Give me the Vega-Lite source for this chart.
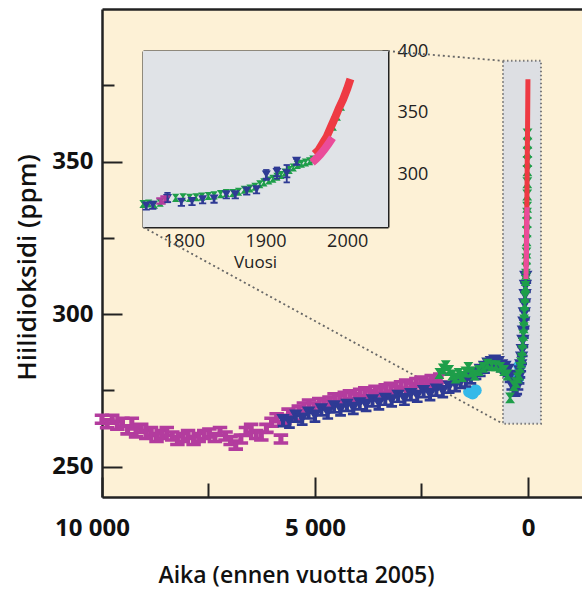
{
  "$schema": "https://vega.github.io/schema/vega-lite/v6.json",
  "width": 480,
  "height": 488,
  "autosize": {"type": "none"},
  "padding": {"left": 102, "top": 9, "right": 0, "bottom": 92},
  "background": "#ffffff",
  "config": {
    "font": "Open Sans",
    "view": {"stroke": null, "fill": "#FDF1D6"},
    "axis": {"grid": false, "zindex": 1, "domainColor": "#222222", "tickColor": "#222222", "labelColor": "#111111", "titleColor": "#111111", "labelFont": "Open Sans", "titleFont": "Open Sans", "labelOverlap": false, "labelFlush": false, "labelBound": false}
  },
  "datasets": {
    "zoombox": [{"age": 587, "age2": -305, "co2": 264, "co22": 383}],
    "connectors": [
      {"age": 3286, "co2": 386.2, "age2": 587, "co22": 383},
      {"age": 9038, "co2": 328.5, "age2": 587, "co22": 264}
    ],
    "insetBox": [{"year": 1750, "year2": 2050, "co2": 258, "co22": 400}],
    "main": [
      {"age": 10000, "co2": 265.5, "s": "EPICA"}, {"age": 9880, "co2": 264, "s": "EPICA"}, {"age": 9760, "co2": 265.5, "s": "EPICA"}, {"age": 9640, "co2": 263.5, "s": "EPICA"}, {"age": 9520, "co2": 264.5, "s": "EPICA"}, {"age": 9400, "co2": 262, "s": "EPICA"}, {"age": 9300, "co2": 264.5, "s": "EPICA"}, {"age": 9200, "co2": 261, "s": "EPICA"}, {"age": 9080, "co2": 262.5, "s": "EPICA"}, {"age": 8960, "co2": 260.5, "s": "EPICA"}, {"age": 8850, "co2": 261.5, "s": "EPICA"}, {"age": 8720, "co2": 259.5, "s": "EPICA"}, {"age": 8600, "co2": 260.5, "s": "EPICA"}, {"age": 8480, "co2": 261.5, "s": "EPICA"}, {"age": 8350, "co2": 260, "s": "EPICA"}, {"age": 8230, "co2": 258.5, "s": "EPICA"}, {"age": 8100, "co2": 259.5, "s": "EPICA"}, {"age": 7980, "co2": 260.5, "s": "EPICA"}, {"age": 7850, "co2": 258.5, "s": "EPICA"}, {"age": 7730, "co2": 259.5, "s": "EPICA"}, {"age": 7600, "co2": 260.5, "s": "EPICA"}, {"age": 7480, "co2": 261, "s": "EPICA"}, {"age": 7350, "co2": 259.5, "s": "EPICA"}, {"age": 7230, "co2": 261.5, "s": "EPICA"}, {"age": 7100, "co2": 260, "s": "EPICA"}, {"age": 6980, "co2": 258.5, "s": "EPICA"}, {"age": 6860, "co2": 257, "s": "EPICA"}, {"age": 6740, "co2": 259, "s": "EPICA"}, {"age": 6620, "co2": 261.5, "s": "EPICA"}, {"age": 6500, "co2": 262.5, "s": "EPICA"}, {"age": 6380, "co2": 260.5, "s": "EPICA"}, {"age": 6260, "co2": 260, "s": "EPICA"}, {"age": 6140, "co2": 262.5, "s": "EPICA"}, {"age": 6020, "co2": 264.5, "s": "EPICA"}, {"age": 5900, "co2": 266, "s": "EPICA"}, {"age": 5800, "co2": 259, "s": "EPICA"}, {"age": 5720, "co2": 265.5, "s": "EPICA"}, {"age": 5620, "co2": 267.5, "s": "EPICA"}, {"age": 5500, "co2": 266.5, "s": "EPICA"}, {"age": 5380, "co2": 268.5, "s": "EPICA"}, {"age": 5260, "co2": 269.5, "s": "EPICA"}, {"age": 5140, "co2": 270.5, "s": "EPICA"}, {"age": 5020, "co2": 269.5, "s": "EPICA"}, {"age": 4900, "co2": 271, "s": "EPICA"}, {"age": 4780, "co2": 270.5, "s": "EPICA"}, {"age": 4660, "co2": 271.5, "s": "EPICA"}, {"age": 4540, "co2": 272.5, "s": "EPICA"}, {"age": 4420, "co2": 272, "s": "EPICA"}, {"age": 4300, "co2": 273, "s": "EPICA"}, {"age": 4180, "co2": 273.5, "s": "EPICA"}, {"age": 4060, "co2": 272.5, "s": "EPICA"}, {"age": 3940, "co2": 274, "s": "EPICA"}, {"age": 3820, "co2": 274.5, "s": "EPICA"}, {"age": 3700, "co2": 273.5, "s": "EPICA"}, {"age": 3580, "co2": 275, "s": "EPICA"}, {"age": 3460, "co2": 274.5, "s": "EPICA"}, {"age": 3340, "co2": 275.5, "s": "EPICA"}, {"age": 3220, "co2": 276, "s": "EPICA"}, {"age": 3100, "co2": 275, "s": "EPICA"}, {"age": 2980, "co2": 276.5, "s": "EPICA"}, {"age": 2860, "co2": 277, "s": "EPICA"}, {"age": 2740, "co2": 276, "s": "EPICA"}, {"age": 2620, "co2": 277.5, "s": "EPICA"}, {"age": 2500, "co2": 278, "s": "EPICA"}, {"age": 2380, "co2": 277, "s": "EPICA"}, {"age": 2260, "co2": 278.5, "s": "EPICA"}, {"age": 2150, "co2": 278, "s": "EPICA"}, {"age": 2060, "co2": 279, "s": "EPICA"},
      {"age": 1380, "co2": 274.5, "s": "Cyan"}, {"age": 1300, "co2": 274, "s": "Cyan"}, {"age": 1230, "co2": 275, "s": "Cyan"}, {"age": 230, "co2": 279, "s": "Cyan"}, {"age": 200, "co2": 283, "s": "Cyan"},
      {"age": 5750, "co2": 265, "s": "Taylor"}, {"age": 5600, "co2": 264.5, "s": "Taylor"}, {"age": 5450, "co2": 266.5, "s": "Taylor"}, {"age": 5300, "co2": 265.5, "s": "Taylor"}, {"age": 5150, "co2": 267.5, "s": "Taylor"}, {"age": 5000, "co2": 266.5, "s": "Taylor"}, {"age": 4850, "co2": 268.5, "s": "Taylor"}, {"age": 4700, "co2": 267.5, "s": "Taylor"}, {"age": 4550, "co2": 269.5, "s": "Taylor"}, {"age": 4400, "co2": 268.5, "s": "Taylor"}, {"age": 4250, "co2": 270, "s": "Taylor"}, {"age": 4100, "co2": 269, "s": "Taylor"}, {"age": 3950, "co2": 270.5, "s": "Taylor"}, {"age": 3800, "co2": 270, "s": "Taylor"}, {"age": 3650, "co2": 271.5, "s": "Taylor"}, {"age": 3500, "co2": 270.5, "s": "Taylor"}, {"age": 3350, "co2": 272, "s": "Taylor"}, {"age": 3200, "co2": 271.5, "s": "Taylor"}, {"age": 3050, "co2": 273, "s": "Taylor"}, {"age": 2900, "co2": 272, "s": "Taylor"}, {"age": 2750, "co2": 273.5, "s": "Taylor"}, {"age": 2600, "co2": 273, "s": "Taylor"}, {"age": 2450, "co2": 274.5, "s": "Taylor"}, {"age": 2300, "co2": 273.5, "s": "Taylor"}, {"age": 2150, "co2": 275, "s": "Taylor"}, {"age": 2000, "co2": 274.5, "s": "Taylor"}, {"age": 1850, "co2": 276, "s": "Taylor"}, {"age": 1700, "co2": 276.5, "s": "Taylor"}, {"age": 1580, "co2": 277.5, "s": "Taylor"}, {"age": 1460, "co2": 278, "s": "Taylor"}, {"age": 1340, "co2": 279, "s": "Taylor"}, {"age": 1220, "co2": 280.5, "s": "Taylor"}, {"age": 1120, "co2": 281.5, "s": "Taylor"}, {"age": 1020, "co2": 282.5, "s": "Taylor"}, {"age": 940, "co2": 283.5, "s": "Taylor"}, {"age": 860, "co2": 284, "s": "Taylor"}, {"age": 780, "co2": 284.5, "s": "Taylor"}, {"age": 700, "co2": 284, "s": "Taylor"}, {"age": 620, "co2": 283, "s": "Taylor"}, {"age": 540, "co2": 282.5, "s": "Taylor"}, {"age": 470, "co2": 281.5, "s": "Taylor"}, {"age": 420, "co2": 279.5, "s": "Taylor"}, {"age": 380, "co2": 277, "s": "Taylor"}, {"age": 340, "co2": 275.5, "s": "Taylor"}, {"age": 300, "co2": 275, "s": "Taylor"}, {"age": 265, "co2": 275.5, "s": "Taylor"}, {"age": 235, "co2": 277, "s": "Taylor"}, {"age": 210, "co2": 279, "s": "Taylor"}, {"age": 190, "co2": 281, "s": "Taylor"}, {"age": 170, "co2": 283, "s": "Taylor"}, {"age": 150, "co2": 285.5, "s": "Taylor"}, {"age": 135, "co2": 288, "s": "Taylor"}, {"age": 120, "co2": 291, "s": "Taylor"}, {"age": 108, "co2": 294, "s": "Taylor"}, {"age": 96, "co2": 297, "s": "Taylor"}, {"age": 86, "co2": 300, "s": "Taylor"}, {"age": 77, "co2": 303, "s": "Taylor"}, {"age": 68, "co2": 306, "s": "Taylor"}, {"age": 60, "co2": 309, "s": "Taylor"}, {"age": 52, "co2": 312, "s": "Taylor"},
      {"age": 2080, "co2": 280.5, "s": "LawDome"}, {"age": 2000, "co2": 282, "s": "LawDome"}, {"age": 1930, "co2": 283, "s": "LawDome"}, {"age": 1850, "co2": 281.5, "s": "LawDome"}, {"age": 1780, "co2": 280, "s": "LawDome"}, {"age": 1700, "co2": 279, "s": "LawDome"}, {"age": 1630, "co2": 280.5, "s": "LawDome"}, {"age": 1550, "co2": 279.5, "s": "LawDome"}, {"age": 1470, "co2": 281, "s": "LawDome"}, {"age": 1400, "co2": 282.5, "s": "LawDome"}, {"age": 1330, "co2": 281, "s": "LawDome"}, {"age": 1250, "co2": 280, "s": "LawDome"}, {"age": 1150, "co2": 281.5, "s": "LawDome"}, {"age": 1050, "co2": 282.5, "s": "LawDome"}, {"age": 950, "co2": 283.5, "s": "LawDome"}, {"age": 850, "co2": 283, "s": "LawDome"}, {"age": 750, "co2": 283, "s": "LawDome"}, {"age": 650, "co2": 282.5, "s": "LawDome"}, {"age": 560, "co2": 281.5, "s": "LawDome"}, {"age": 480, "co2": 280, "s": "LawDome"}, {"age": 420, "co2": 272.5, "s": "LawDome"}, {"age": 330, "co2": 276.5, "s": "LawDome"}, {"age": 280, "co2": 277.5, "s": "LawDome"}, {"age": 240, "co2": 279, "s": "LawDome"}, {"age": 205, "co2": 280, "s": "LawDome"}, {"age": 185, "co2": 282.5, "s": "LawDome"}, {"age": 165, "co2": 284, "s": "LawDome"}, {"age": 148, "co2": 285.5, "s": "LawDome"}, {"age": 135, "co2": 288, "s": "LawDome"}, {"age": 122, "co2": 290.5, "s": "LawDome"}, {"age": 110, "co2": 293, "s": "LawDome"}, {"age": 100, "co2": 295.5, "s": "LawDome"}, {"age": 92, "co2": 298, "s": "LawDome"}, {"age": 84, "co2": 300.5, "s": "LawDome"}, {"age": 76, "co2": 303, "s": "LawDome"}, {"age": 68, "co2": 305.5, "s": "LawDome"}, {"age": 60, "co2": 309, "s": "LawDome"}, {"age": 54, "co2": 311, "s": "LawDome"}, {"age": 48, "co2": 313, "s": "LawDome"}, {"age": 44, "co2": 315, "s": "LawDome"}, {"age": 40, "co2": 318, "s": "LawDome"}, {"age": 36, "co2": 320, "s": "LawDome"}, {"age": 32, "co2": 324, "s": "LawDome"}, {"age": 28, "co2": 327, "s": "LawDome"}, {"age": 25, "co2": 330, "s": "LawDome"}, {"age": 22, "co2": 333, "s": "LawDome"}, {"age": 20, "co2": 335, "s": "LawDome"}, {"age": 18, "co2": 339, "s": "LawDome"}, {"age": 16, "co2": 343, "s": "LawDome"}, {"age": 14, "co2": 347, "s": "LawDome"}, {"age": 13, "co2": 350, "s": "LawDome"}, {"age": 12, "co2": 353, "s": "LawDome"}, {"age": 11, "co2": 356, "s": "LawDome"}, {"age": 10, "co2": 359, "s": "LawDome"}
    ],
    "mainLines": [
      {"age": 47, "co2": 315.5, "s": "MaunaLoa"}, {"age": 40, "co2": 320, "s": "MaunaLoa"}, {"age": 35, "co2": 325.5, "s": "MaunaLoa"}, {"age": 30, "co2": 331, "s": "MaunaLoa"}, {"age": 25, "co2": 338.5, "s": "MaunaLoa"}, {"age": 20, "co2": 346, "s": "MaunaLoa"}, {"age": 15, "co2": 354, "s": "MaunaLoa"}, {"age": 10, "co2": 361, "s": "MaunaLoa"}, {"age": 5, "co2": 369.5, "s": "MaunaLoa"}, {"age": 1, "co2": 377, "s": "MaunaLoa"},
      {"age": 48, "co2": 311.5, "s": "SouthPole"}, {"age": 43, "co2": 315, "s": "SouthPole"}, {"age": 38, "co2": 318.5, "s": "SouthPole"}, {"age": 33, "co2": 322.5, "s": "SouthPole"}, {"age": 28, "co2": 327, "s": "SouthPole"}, {"age": 23, "co2": 333, "s": "SouthPole"}, {"age": 20, "co2": 335, "s": "SouthPole"}
    ],
    "inset": [
      {"year": 1750, "co2": 276.5, "s": "LawDome"}, {"year": 1757, "co2": 277, "s": "LawDome"}, {"year": 1764, "co2": 276, "s": "LawDome"}, {"year": 1771, "co2": 277.5, "s": "LawDome"}, {"year": 1790, "co2": 281.5, "s": "LawDome"}, {"year": 1799, "co2": 282, "s": "LawDome"}, {"year": 1807, "co2": 281.5, "s": "LawDome"}, {"year": 1815, "co2": 282, "s": "LawDome"}, {"year": 1822, "co2": 282.5, "s": "LawDome"}, {"year": 1830, "co2": 283, "s": "LawDome"}, {"year": 1837, "co2": 283.5, "s": "LawDome"}, {"year": 1845, "co2": 284.5, "s": "LawDome"}, {"year": 1852, "co2": 285.5, "s": "LawDome"}, {"year": 1860, "co2": 285.5, "s": "LawDome"}, {"year": 1867, "co2": 286.5, "s": "LawDome"}, {"year": 1874, "co2": 288, "s": "LawDome"}, {"year": 1881, "co2": 289, "s": "LawDome"}, {"year": 1887, "co2": 290.5, "s": "LawDome"}, {"year": 1893, "co2": 292.5, "s": "LawDome"}, {"year": 1898, "co2": 294, "s": "LawDome"}, {"year": 1904, "co2": 295.5, "s": "LawDome"}, {"year": 1909, "co2": 297, "s": "LawDome"}, {"year": 1914, "co2": 298.5, "s": "LawDome"}, {"year": 1919, "co2": 300, "s": "LawDome"}, {"year": 1924, "co2": 302, "s": "LawDome"}, {"year": 1929, "co2": 304, "s": "LawDome"}, {"year": 1934, "co2": 306, "s": "LawDome"}, {"year": 1939, "co2": 308, "s": "LawDome"}, {"year": 1944, "co2": 309, "s": "LawDome"}, {"year": 1949, "co2": 310, "s": "LawDome"}, {"year": 1954, "co2": 311, "s": "LawDome"}, {"year": 1958, "co2": 312.5, "s": "LawDome"}, {"year": 1963, "co2": 316, "s": "LawDome"}, {"year": 1968, "co2": 320, "s": "LawDome"}, {"year": 1973, "co2": 325.5, "s": "LawDome"}, {"year": 1978, "co2": 332, "s": "LawDome"}, {"year": 1983, "co2": 339, "s": "LawDome"}, {"year": 1988, "co2": 347, "s": "LawDome"}, {"year": 1993, "co2": 355, "s": "LawDome"},
      {"year": 1754, "co2": 275, "s": "Taylor"}, {"year": 1762, "co2": 275.5, "s": "Taylor"}, {"year": 1780, "co2": 281, "s": "Taylor"}, {"year": 1797, "co2": 278, "s": "Taylor"}, {"year": 1810, "co2": 278.5, "s": "Taylor"}, {"year": 1823, "co2": 280, "s": "Taylor"}, {"year": 1837, "co2": 280.5, "s": "Taylor"}, {"year": 1852, "co2": 284, "s": "Taylor"}, {"year": 1863, "co2": 284, "s": "Taylor"}, {"year": 1877, "co2": 287, "s": "Taylor"}, {"year": 1889, "co2": 288, "s": "Taylor"}, {"year": 1901, "co2": 300, "s": "Taylor"}, {"year": 1914, "co2": 302, "s": "Taylor"}, {"year": 1926, "co2": 301, "s": "Taylor"}, {"year": 1938, "co2": 311, "s": "Taylor"},
      {"year": 1772, "co2": 279, "s": "EPICA"}, {"year": 1777, "co2": 280.5, "s": "EPICA"}
    ],
    "insetBars": [
      {"year": 1780, "lo": 278, "hi": 285.5}, {"year": 1901, "lo": 296, "hi": 304}, {"year": 1914, "lo": 297, "hi": 306}, {"year": 1926, "lo": 294, "hi": 308}, {"year": 1938, "lo": 308.5, "hi": 313}
    ],
    "insetLines": [
      {"year": 1960, "co2": 317, "s": "MaunaLoa"}, {"year": 1965, "co2": 320, "s": "MaunaLoa"}, {"year": 1970, "co2": 325.5, "s": "MaunaLoa"}, {"year": 1975, "co2": 331, "s": "MaunaLoa"}, {"year": 1980, "co2": 338.5, "s": "MaunaLoa"}, {"year": 1985, "co2": 346, "s": "MaunaLoa"}, {"year": 1990, "co2": 354, "s": "MaunaLoa"}, {"year": 1995, "co2": 361, "s": "MaunaLoa"}, {"year": 2000, "co2": 369.5, "s": "MaunaLoa"}, {"year": 2004, "co2": 377.5, "s": "MaunaLoa"},
      {"year": 1957, "co2": 310, "s": "SouthPole"}, {"year": 1962, "co2": 313, "s": "SouthPole"}, {"year": 1967, "co2": 316.5, "s": "SouthPole"}, {"year": 1972, "co2": 320.5, "s": "SouthPole"}, {"year": 1977, "co2": 325, "s": "SouthPole"}, {"year": 1982, "co2": 330, "s": "SouthPole"}
    ]
  },
  "layer": [
    {
      "data": {"name": "zoombox"},
      "mark": {"type": "rect", "fill": "#DDDFE3", "stroke": "#7a7a7a", "strokeWidth": 2, "strokeDash": [1.5, 2.5]},
      "encoding": {
        "x": {"field": "age", "type": "quantitative", "scale": {"domain": [-1268, 10000], "reverse": true, "nice": false, "zero": false}, "axis": {"orient": "top", "ticks": false, "labels": false, "title": null, "domainWidth": 2.5}},
        "x2": {"field": "age2"},
        "y": {"field": "co2", "type": "quantitative", "scale": {"domain": [240, 400], "nice": false, "zero": false}, "axis": {"orient": "left", "values": [275, 325, 375], "tickSize": -12, "tickWidth": 2, "labels": false, "domain": false, "title": null}},
        "y2": {"field": "co22"}
      }
    },
    {
      "data": {"name": "connectors"},
      "mark": {"type": "rule", "stroke": "#666666", "strokeWidth": 1.8, "strokeDash": [2, 3]},
      "encoding": {
        "x": {"field": "age", "type": "quantitative", "scale": {"domain": [-1268, 10000], "reverse": true, "nice": false, "zero": false}, "axis": null},
        "x2": {"field": "age2"},
        "y": {"field": "co2", "type": "quantitative", "scale": {"domain": [240, 400], "nice": false, "zero": false}, "axis": null},
        "y2": {"field": "co22"}
      }
    },
    {
      "data": {"name": "main"},
      "mark": {"type": "point", "filled": true, "opacity": 1, "strokeWidth": 0},
      "encoding": {
        "x": {"field": "age", "type": "quantitative", "scale": {"domain": [-1268, 10000], "reverse": true, "nice": false, "zero": false},
          "axis": {"orient": "bottom", "values": [0, 5000, 10000], "tickSize": -20, "tickWidth": 2, "domainWidth": 2.5, "labelFontSize": 24, "labelFontWeight": "bold", "labelPadding": 39, "labelExpr": "datum.value == 10000 ? '10 000' : datum.value == 5000 ? '5 000' : '0'", "labelOffset": {"condition": {"test": "datum.value == 10000", "value": -10}, "value": 0}, "title": "Aika (ennen vuotta 2005)", "titleFontSize": 23, "titleFontWeight": 600, "titlePadding": 24, "titleX": 194, "titleAlign": "center", "titleAnchor": null}},
        "y": {"field": "co2", "type": "quantitative", "scale": {"domain": [240, 400], "nice": false, "zero": false},
          "axis": {"orient": "left", "values": [250, 300, 350], "tickSize": -20, "tickWidth": 2, "domainWidth": 2.5, "labelFontSize": 24, "labelFontWeight": "bold", "labelPadding": 29, "title": "Hiilidioksidi (ppm)", "titleFontSize": 26, "titleFontWeight": 600, "titlePadding": 11, "titleY": 258, "titleAlign": "center", "titleAnchor": null}},
        "color": {"field": "s", "type": "nominal", "legend": null, "scale": {"domain": ["EPICA", "Taylor", "Cyan", "LawDome", "MaunaLoa", "SouthPole"], "range": ["#B33C9E", "#2E3A94", "#35B9E9", "#1E9E4A", "#EE3A43", "#EA4C9A"]}},
        "shape": {"field": "s", "type": "nominal", "legend": null, "scale": {"domain": ["EPICA", "Taylor", "Cyan", "LawDome"], "range": ["M-1,-0.8H1V-0.3H0.35V0.3H1V0.8H-1V0.3H-0.35V-0.3H-1Z", "M-1,-1H1L0.3,0.2V0.6H0.8V1H-0.8V0.6H-0.3V0.2Z", "circle", "M-0.9,-1H0.9L0.2,0L0.9,1H-0.9L-0.2,0Z"]}},
        "size": {"field": "s", "type": "nominal", "legend": null, "scale": {"domain": ["EPICA", "Taylor", "Cyan", "LawDome"], "range": [210, 120, 60, 160]}}
      }
    },
    {
      "data": {"name": "mainLines"},
      "mark": {"type": "line", "strokeWidth": 5},
      "encoding": {
        "x": {"field": "age", "type": "quantitative", "scale": {"domain": [-1268, 10000], "reverse": true, "nice": false, "zero": false}, "axis": {"orient": "bottom", "values": [2500, 7500], "tickSize": -14, "tickWidth": 2, "labels": false, "domain": false, "title": null}},
        "y": {"field": "co2", "type": "quantitative", "scale": {"domain": [240, 400], "nice": false, "zero": false}, "axis": null},
        "color": {"field": "s", "type": "nominal", "legend": null, "scale": {"domain": ["EPICA", "Taylor", "Cyan", "LawDome", "MaunaLoa", "SouthPole"], "range": ["#B33C9E", "#2E3A94", "#35B9E9", "#1E9E4A", "#EE3A43", "#EA4C9A"]}}
      }
    },
    {
      "data": {"name": "insetBox"},
      "mark": {"type": "rect", "fill": "#E0E3E7"},
      "encoding": {
        "x": {"field": "year", "type": "quantitative", "scale": {"domain": [1750, 2050], "range": [41, 286], "nice": false, "zero": false},
          "axis": {"orient": "bottom", "offset": -270, "values": [1800, 1850, 1900, 1950, 2000], "format": "d", "tickSize": -10, "tickWidth": 2, "domainWidth": 2, "labelFontSize": 18, "labelPadding": 15, "labelColor": "#222222", "labelExpr": "datum.value % 100 == 0 ? datum.label : ''", "title": "Vuosi", "titleFontSize": 17, "titleFontWeight": "normal", "titleColor": "#222222", "titlePadding": 4, "titleX": 153, "titleAlign": "center", "titleAnchor": null}},
        "x2": {"field": "year2"},
        "y": {"field": "co2", "type": "quantitative", "scale": {"domain": [258, 400], "range": [218, 42], "nice": false, "zero": false},
          "axis": {"orient": "left", "offset": -41, "values": [275, 300, 325, 350, 375], "tickSize": -7, "tickWidth": 2, "domainWidth": 2, "labels": false, "title": null}},
        "y2": {"field": "co22"}
      }
    },
    {
      "data": {"name": "inset"},
      "mark": {"type": "point", "filled": true, "opacity": 1, "strokeWidth": 0},
      "encoding": {
        "x": {"field": "year", "type": "quantitative", "scale": {"domain": [1750, 2050], "range": [41, 286], "nice": false, "zero": false},
          "axis": {"orient": "top", "offset": -42, "values": [1800, 1850, 1900, 1950, 2000], "tickSize": -10, "tickWidth": 2, "domainWidth": 2, "labels": false, "title": null}},
        "y": {"field": "co2", "type": "quantitative", "scale": {"domain": [258, 400], "range": [218, 42], "nice": false, "zero": false},
          "axis": {"orient": "right", "offset": -194, "values": [275, 300, 325, 350, 375, 400], "tickSize": -6, "tickWidth": 2, "domainWidth": 2, "labelFontSize": 18, "labelPadding": 15, "labelColor": "#222222", "labelExpr": "datum.value % 50 == 0 ? datum.label : ''", "title": null}},
        "color": {"field": "s", "type": "nominal", "legend": null, "scale": {"domain": ["EPICA", "Taylor", "Cyan", "LawDome", "MaunaLoa", "SouthPole"], "range": ["#B33C9E", "#2E3A94", "#35B9E9", "#1E9E4A", "#EE3A43", "#EA4C9A"]}},
        "shape": {"field": "s", "type": "nominal", "legend": null, "scale": {"domain": ["EPICA", "Taylor", "Cyan", "LawDome"], "range": ["M-1,-0.8H1V-0.3H0.35V0.3H1V0.8H-1V0.3H-0.35V-0.3H-1Z", "M-1,-1H1L0.3,0.2V0.6H0.8V1H-0.8V0.6H-0.3V0.2Z", "circle", "M-0.9,-1H0.9L0.2,0L0.9,1H-0.9L-0.2,0Z"]}},
        "size": {"field": "s", "type": "nominal", "legend": null, "scale": {"domain": ["EPICA", "Taylor", "Cyan", "LawDome"], "range": [90, 65, 40, 120]}}
      }
    },
    {
      "data": {"name": "insetLines"},
      "mark": {"type": "line", "strokeWidth": 8},
      "encoding": {
        "x": {"field": "year", "type": "quantitative", "scale": {"domain": [1750, 2050], "range": [41, 286], "nice": false, "zero": false}, "axis": null},
        "y": {"field": "co2", "type": "quantitative", "scale": {"domain": [258, 400], "range": [218, 42], "nice": false, "zero": false}, "axis": null},
        "color": {"field": "s", "type": "nominal", "legend": null, "scale": {"domain": ["EPICA", "Taylor", "Cyan", "LawDome", "MaunaLoa", "SouthPole"], "range": ["#B33C9E", "#2E3A94", "#35B9E9", "#1E9E4A", "#EE3A43", "#EA4C9A"]}},
        "strokeWidth": {"field": "s", "type": "nominal", "legend": null, "scale": {"domain": ["MaunaLoa", "SouthPole"], "range": [8, 10]}}
      }
    },
    {
      "data": {"name": "insetBars"},
      "mark": {"type": "rule", "stroke": "#2E3A94", "strokeWidth": 1.8},
      "encoding": {
        "x": {"field": "year", "type": "quantitative", "scale": {"domain": [1750, 2050], "range": [41, 286], "nice": false, "zero": false}, "axis": null},
        "y": {"field": "lo", "type": "quantitative", "scale": {"domain": [258, 400], "range": [218, 42], "nice": false, "zero": false}, "axis": null},
        "y2": {"field": "hi"}
      }
    },
    {
      "data": {"name": "insetBars"},
      "mark": {"type": "point", "shape": "M-1,0H1", "filled": false, "stroke": "#2E3A94", "strokeWidth": 1.8, "size": 40, "opacity": 1},
      "encoding": {
        "x": {"field": "year", "type": "quantitative", "scale": {"domain": [1750, 2050], "range": [41, 286], "nice": false, "zero": false}, "axis": null},
        "y": {"field": "lo", "type": "quantitative", "scale": {"domain": [258, 400], "range": [218, 42], "nice": false, "zero": false}, "axis": null}
      }
    },
    {
      "data": {"name": "insetBars"},
      "mark": {"type": "point", "shape": "M-1,0H1", "filled": false, "stroke": "#2E3A94", "strokeWidth": 1.8, "size": 40, "opacity": 1},
      "encoding": {
        "x": {"field": "year", "type": "quantitative", "scale": {"domain": [1750, 2050], "range": [41, 286], "nice": false, "zero": false}, "axis": null},
        "y": {"field": "hi", "type": "quantitative", "scale": {"domain": [258, 400], "range": [218, 42], "nice": false, "zero": false}, "axis": null}
      }
    }
  ],
  "resolve": {
    "scale": {"x": "independent", "y": "independent", "size": "independent", "strokeWidth": "independent"},
    "axis": {"x": "independent", "y": "independent"}
  }
}
